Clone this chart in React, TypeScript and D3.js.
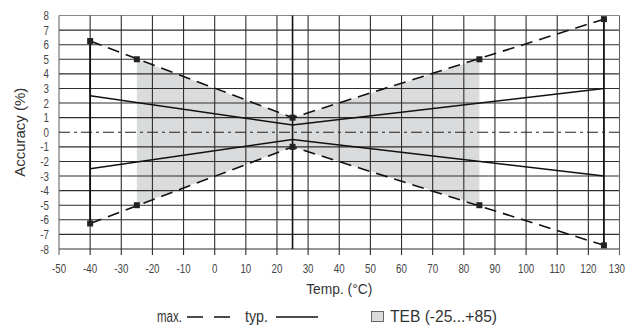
import { useEffect, useRef } from "react";
import * as d3 from "d3";

const width = 626;
const height = 331;
const margin = { top: 15.5, right: 6.5, bottom: 82, left: 59 };

const xTicks = d3.range(-50, 131, 10);
const yTicks = d3.range(-8, 9, 1);

// max accuracy envelope (dashed)
const maxTemps = [-40, 25, 125];
const maxUpper = [6.25, 1, 7.75];
const maxLower = [-6.25, -1, -7.75];
// typical accuracy (solid)
const typTemps = [-40, 25, 125];
const typUpper = [2.5, 0.5, 3];
const typLower = [-2.5, -0.5, -3];
// marker points
const markerTemps = [-40, -25, 25, 85, 125];
const markerUpper = [6.25, 5, 1, 5, 7.75];
const markerLower = [-6.25, -5, -1, -5, -7.75];
// TEB band
const tebTemps = [-25, 25, 85];
const tebUpper = [5, 1, 5];
const tebLower = [-5, -1, -5];

const font = "'Liberation Sans', Arial, sans-serif";
const squeeze = 0.78;

const App = () => {
  const svgRef = useRef<SVGSVGElement>(null);

  useEffect(() => {
    const svg = d3.select(svgRef.current);
    svg.selectAll("*").remove();

    const x = d3.scaleLinear().domain([-50, 130]).range([margin.left, width - margin.right]);
    const y = d3.scaleLinear().domain([-8, 8]).range([height - margin.bottom, margin.top]);

    // TEB band
    const band = tebTemps
      .map((t, i) => [x(t), y(tebUpper[i])])
      .concat(tebTemps.map((t, i) => [x(t), y(tebLower[i])]).reverse());
    svg
      .append("path")
      .attr("d", "M" + band.map((p) => p.join(",")).join("L") + "Z")
      .attr("fill", "#dadbdc");

    // grid
    const grid = svg.append("g").attr("stroke-width", 1.1);
    grid
      .selectAll("line.h")
      .data(yTicks)
      .join("line")
      .attr("x1", x(-50))
      .attr("x2", x(130))
      .attr("y1", (d) => y(d))
      .attr("y2", (d) => y(d))
      .attr("stroke", (d) => (d === 0 ? "none" : d === 8 ? "#888" : "#2e2e2e"));
    grid
      .selectAll("line.v")
      .data(xTicks)
      .join("line")
      .attr("x1", (d) => x(d))
      .attr("x2", (d) => x(d))
      .attr("y1", y(8))
      .attr("y2", y(-8) + 6)
      .attr("stroke", (d) => (d === 130 || d === -50 ? "#666" : "#2e2e2e"));

    // zero line dash-dot
    svg
      .append("line")
      .attr("x1", x(-50))
      .attr("x2", x(130))
      .attr("y1", y(0))
      .attr("y2", y(0))
      .attr("stroke", "#222")
      .attr("stroke-width", 1.1)
      .attr("stroke-dasharray", "11,4,3,4");

    // vertical marker lines
    svg
      .append("line")
      .attr("x1", x(25))
      .attr("x2", x(25))
      .attr("y1", y(8))
      .attr("y2", y(-8))
      .attr("stroke", "#111")
      .attr("stroke-width", 1.6);
    [
      [-40, 6.25, -6.25],
      [125, 7.75, -7.75],
    ].forEach(([t, a, b]) => {
      svg
        .append("line")
        .attr("x1", x(t))
        .attr("x2", x(t))
        .attr("y1", y(a))
        .attr("y2", y(b))
        .attr("stroke", "#111")
        .attr("stroke-width", 1.8);
    });

    const line = d3
      .line<[number, number]>()
      .x((d) => x(d[0]))
      .y((d) => y(d[1]));

    [maxUpper, maxLower].forEach((vals) => {
      svg
        .append("path")
        .datum(maxTemps.map((t, i) => [t, vals[i]] as [number, number]))
        .attr("fill", "none")
        .attr("stroke", "#111")
        .attr("stroke-width", 1.6)
        .attr("stroke-dasharray", "12,7")
        .attr("d", line);
    });
    [typUpper, typLower].forEach((vals) => {
      svg
        .append("path")
        .datum(typTemps.map((t, i) => [t, vals[i]] as [number, number]))
        .attr("fill", "none")
        .attr("stroke", "#111")
        .attr("stroke-width", 1.5)
        .attr("d", line);
    });

    // markers
    [markerUpper, markerLower].forEach((vals) => {
      svg
        .append("g")
        .selectAll("rect")
        .data(markerTemps.map((t, i) => [t, vals[i]]))
        .join("rect")
        .attr("x", (d) => x(d[0]) - 3)
        .attr("y", (d) => y(d[1]) - 3)
        .attr("width", 6)
        .attr("height", 6)
        .attr("fill", "#222");
    });

    // tick labels (condensed)
    svg
      .append("g")
      .selectAll("text")
      .data(yTicks)
      .join("text")
      .attr("transform", (d) => `translate(${x(-50) - 10},${y(d)}) scale(${squeeze},1)`)
      .attr("dy", "0.36em")
      .attr("text-anchor", "end")
      .attr("font-family", font)
      .attr("font-size", 12.5)
      .attr("fill", "#444")
      .text((d) => d);
    svg
      .append("g")
      .selectAll("text")
      .data(xTicks)
      .join("text")
      .attr("transform", (d) =>
        d === 130
          ? `translate(${width - 1},${y(-8) + 24}) scale(${squeeze},1)`
          : `translate(${x(d)},${y(-8) + 24}) scale(${squeeze},1)`
      )
      .attr("text-anchor", (d) => (d === 130 ? "end" : "middle"))
      .attr("font-family", font)
      .attr("font-size", 12.5)
      .attr("fill", "#444")
      .text((d) => d);

    // axis titles
    svg
      .append("text")
      .attr("transform", `translate(25,${y(0)}) rotate(-90)`)
      .attr("text-anchor", "middle")
      .attr("font-family", font)
      .attr("font-size", 15)
      .attr("fill", "#333")
      .text("Accuracy (%)");
    svg
      .append("text")
      .attr("transform", `translate(${x(40)},294) scale(0.92,1)`)
      .attr("text-anchor", "middle")
      .attr("font-family", font)
      .attr("font-size", 15)
      .attr("fill", "#333")
      .text("Temp. (°C)");

    // legend
    const ly = 317;
    const lg = svg.append("g").attr("font-family", font).attr("font-size", 16).attr("fill", "#333");
    lg.append("text").attr("x", 157).attr("y", ly + 5).attr("textLength", 25).attr("lengthAdjust", "spacingAndGlyphs").text("max.");
    lg.append("line")
      .attr("x1", 187).attr("x2", 230).attr("y1", ly).attr("y2", ly)
      .attr("stroke", "#111").attr("stroke-width", 1.6).attr("stroke-dasharray", "16,11");
    lg.append("text").attr("x", 245).attr("y", ly + 5).attr("textLength", 23).attr("lengthAdjust", "spacingAndGlyphs").text("typ.");
    lg.append("line")
      .attr("x1", 276).attr("x2", 318).attr("y1", ly).attr("y2", ly)
      .attr("stroke", "#111").attr("stroke-width", 1.6);
    lg.append("rect")
      .attr("x", 371.5).attr("y", ly - 5.5).attr("width", 12).attr("height", 10)
      .attr("fill", "#dadbdc").attr("stroke", "#444").attr("stroke-width", 0.8);
    lg.append("text").attr("x", 390).attr("y", ly + 5).attr("textLength", 107).attr("lengthAdjust", "spacingAndGlyphs").text("TEB (-25...+85)");
  }, []);

  return (
    <svg
      ref={svgRef}
      width={width}
      height={height}
      style={{ position: "absolute", left: 0, top: 0, background: "#fff" }}
    ></svg>
  );
};

export default App;
